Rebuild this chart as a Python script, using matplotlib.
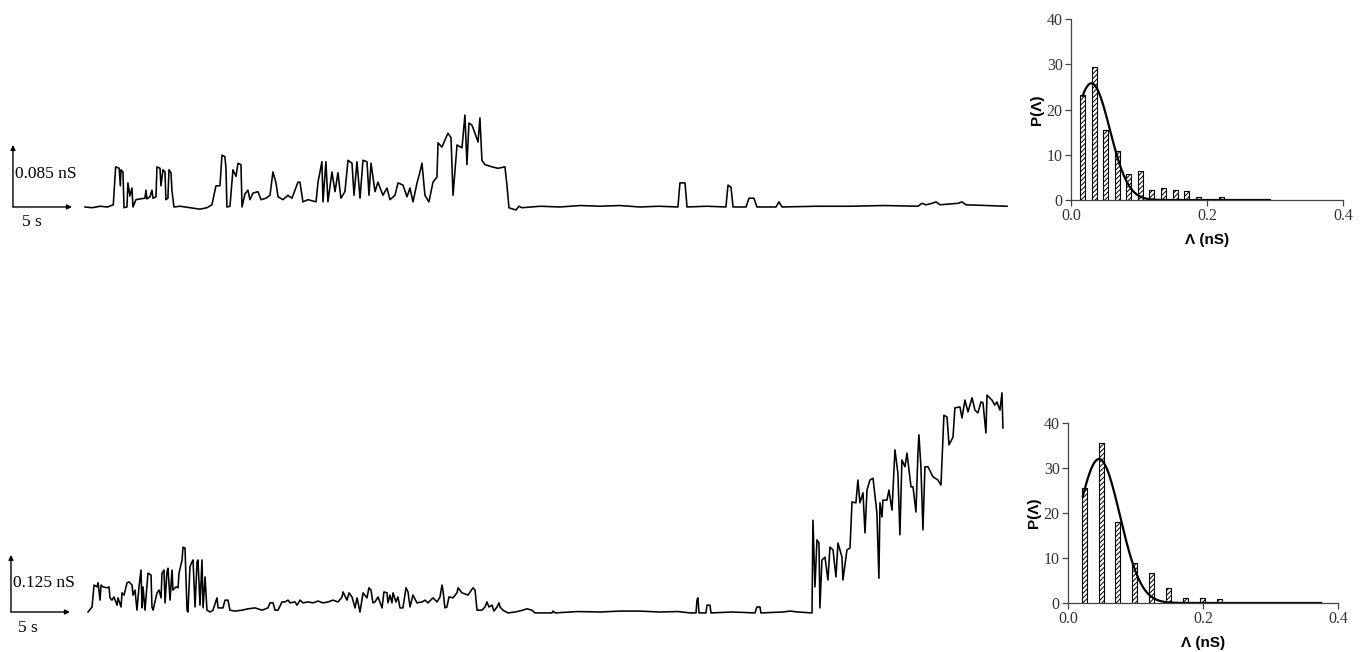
import numpy as np
import matplotlib.pyplot as plt

# ---- trace 1 (time in s, conductance in nS) ----
top_t = [0.0, 0.6, 1.3, 1.9, 2.4, 2.6, 2.9, 3.0, 3.05, 3.22, 3.31, 3.56, 3.64, 3.81, 3.98, 4.07,
         4.32, 4.66, 5.08, 5.17, 5.25, 5.51, 5.68, 5.76, 6.02, 6.10, 6.36, 6.44, 6.61, 6.78, 6.86,
         7.03, 7.12, 7.29, 7.37, 7.54, 8.05, 8.90, 9.75, 10.34, 10.76, 11.10, 11.44, 11.61, 11.86,
         11.95, 12.03, 12.29, 12.54, 12.80, 12.97, 13.22, 13.31, 13.56, 13.81, 13.98, 14.24, 14.66,
         14.92, 15.34, 15.68, 15.93, 16.19, 16.36, 16.78, 17.20, 17.54, 17.80, 18.05, 18.22, 18.47,
         18.90, 19.58, 19.75, 20.08, 20.17, 20.42, 20.59, 20.93, 21.19, 21.44, 21.69, 22.03, 22.29,
         22.63, 22.80, 23.05, 23.31, 23.56, 23.90, 24.07, 24.24, 24.58, 24.83, 25.25, 25.59, 25.85,
         26.27, 26.53, 26.95, 27.29, 27.54, 27.80, 28.14, 28.39, 28.56, 28.81, 29.15, 29.49, 29.83,
         29.92, 30.25, 30.51, 30.76, 31.02, 31.19, 31.53, 31.95, 32.20, 32.37, 32.54, 32.80, 33.05,
         33.31, 33.47, 33.64, 33.90, 34.49, 35.00, 35.59, 35.76, 35.93, 36.27, 36.53, 36.78, 37.03,
         38.6, 40.25, 42.0, 43.64, 45.3, 47.03, 48.6, 50.25, 50.42, 50.85, 51.02, 52.7, 54.32, 54.49,
         54.75, 54.92, 56.02, 56.27, 56.69, 56.95, 58.56, 58.81, 59.07, 62.0, 64.83, 67.7, 70.59,
         70.93, 71.27, 71.78, 72.12, 72.46, 73.98, 74.32, 74.66, 76.4, 78.14]
top_g = [0.000, -0.001, 0.001, 0.000, 0.003, 0.055, 0.053, 0.029, 0.051, 0.048, -0.001, 0.000,
         0.033, 0.015, 0.026, 0.000, 0.010, 0.011, 0.012, 0.023, 0.011, 0.014, 0.023, 0.012, 0.014,
         0.055, 0.053, 0.029, 0.051, 0.048, 0.010, 0.012, 0.051, 0.047, 0.023, 0.000, 0.001, -0.001,
         -0.003, -0.001, 0.003, 0.029, 0.029, 0.071, 0.069, 0.053, 0.000, 0.001, 0.051, 0.042, 0.060,
         0.058, 0.000, 0.018, 0.023, 0.010, 0.019, 0.021, 0.010, 0.012, 0.016, 0.048, 0.033, 0.014,
         0.010, 0.016, 0.012, 0.023, 0.034, 0.034, 0.007, 0.010, 0.007, 0.034, 0.062, 0.007, 0.062,
         0.007, 0.048, 0.021, 0.047, 0.012, 0.021, 0.064, 0.060, 0.016, 0.062, 0.012, 0.064, 0.062,
         0.016, 0.060, 0.021, 0.034, 0.016, 0.026, 0.010, 0.016, 0.033, 0.030, 0.014, 0.026, 0.007,
         0.033, 0.048, 0.060, 0.016, 0.007, 0.034, 0.041, 0.088, 0.082, 0.092, 0.101, 0.095, 0.016,
         0.085, 0.081, 0.126, 0.058, 0.115, 0.112, 0.101, 0.089, 0.122, 0.064, 0.058, 0.055, 0.053,
         0.055, 0.030, -0.001, -0.003, -0.004, 0.001, -0.001, 0.001, 0.000, 0.002, 0.001, 0.002,
         0.000, 0.001, 0.000, 0.033, 0.033, 0.000, 0.001, 0.000, 0.030, 0.027, 0.000, 0.000, 0.012,
         0.012, 0.000, 0.000, 0.007, 0.000, 0.001, 0.001, 0.002, 0.001, 0.005, 0.003, 0.005, 0.007,
         0.003, 0.005, 0.007, 0.003, 0.002, 0.001]

# ---- trace 2 ----
bot_t = [0.0, 0.34, 0.51, 0.76, 0.85, 1.02, 1.10, 1.27, 1.61, 1.78, 1.86, 2.03, 2.20, 2.46, 2.54,
         2.80, 2.88, 3.05, 3.31, 3.47, 3.73, 3.81, 3.98, 4.15, 4.32, 4.49, 4.58, 4.66, 4.83, 5.08,
         5.34, 5.42, 5.51, 5.85, 6.02, 6.19, 6.27, 6.44, 6.53, 6.69, 6.78, 6.95, 7.12, 7.20, 7.46,
         7.63, 7.71, 7.97, 8.05, 8.22, 8.39, 8.47, 8.64, 8.81, 8.90, 9.07, 9.24, 9.32, 9.49, 9.66,
         9.75, 9.92, 10.08, 10.34, 10.59, 10.93, 11.02, 11.44, 11.61, 11.86, 12.03, 12.46, 13.05,
         13.56, 14.15, 14.75, 15.25, 15.42, 15.68, 15.85, 16.10, 16.44, 16.69, 16.95, 17.12, 17.54,
         17.71, 17.97, 18.22, 18.64, 19.07, 19.49, 19.92, 20.34, 20.76, 21.19, 21.53, 21.61, 21.95,
         22.12, 22.37, 22.63, 22.80, 23.05, 23.31, 23.64, 23.81, 23.98, 24.15, 24.32, 24.58, 24.92,
         25.08, 25.34, 25.42, 25.59, 25.76, 25.85, 26.10, 26.27, 26.44, 26.69, 26.95, 27.12, 27.29,
         27.54, 27.88, 28.31, 28.56, 28.81, 29.24, 29.58, 29.83, 30.00, 30.08, 30.25, 30.42, 30.59,
         30.93, 31.27, 31.36, 31.69, 32.20, 32.63, 32.80, 32.97, 33.39, 33.64, 33.81, 33.98, 34.24,
         34.41, 34.66, 34.83, 34.92, 35.17, 35.59, 36.19, 36.86, 37.20, 37.63, 37.88, 39.32, 39.41,
         39.58, 41.5, 43.39, 45.1, 46.78, 48.47, 50.0, 51.02, 51.53, 51.61, 51.69, 51.78, 52.37,
         52.46, 52.71, 52.80, 54.6, 56.53, 56.69, 56.95, 57.03, 58.90, 59.49, 60.17, 61.36, 61.44,
         61.61, 61.78, 61.95, 62.03, 62.20, 62.46, 62.71, 62.88, 63.14, 63.39, 63.56, 63.90, 63.98,
         64.32, 64.58, 64.75, 65.08, 65.25, 65.42, 65.68, 65.85, 66.02, 66.27, 66.53, 66.86, 67.03,
         67.12, 67.29, 67.37, 67.71, 67.88, 68.14, 68.39, 68.64, 68.81, 68.98, 69.24, 69.41, 69.75,
         69.92, 70.17, 70.34, 70.42, 70.59, 70.76, 70.93, 71.19, 71.61, 72.03, 72.29, 72.54, 72.80,
         72.97, 73.31, 73.47, 73.90, 74.07, 74.32, 74.58, 74.92, 75.17, 75.42, 75.68, 75.85, 76.10,
         76.19, 76.61, 76.86, 77.03, 77.29, 77.46, 77.54]
bot_g = [0.000, 0.011, 0.059, 0.055, 0.064, 0.026, 0.059, 0.055, 0.053, 0.055, 0.031, 0.026,
         0.033, 0.015, 0.031, 0.011, 0.042, 0.037, 0.064, 0.066, 0.059, 0.037, 0.048, 0.004, 0.055,
         0.092, 0.009, 0.055, 0.004, 0.085, 0.081, 0.011, 0.004, 0.042, 0.048, 0.031, 0.085, 0.092,
         0.020, 0.088, 0.096, 0.026, 0.092, 0.048, 0.055, 0.053, 0.085, 0.114, 0.142, 0.140, 0.004,
         0.000, 0.099, 0.110, 0.114, 0.011, 0.110, 0.114, 0.015, 0.114, 0.009, 0.077, 0.004, 0.000,
         0.004, 0.031, 0.009, 0.009, 0.026, 0.026, 0.004, 0.002, 0.004, 0.007, 0.009, 0.004, 0.009,
         0.020, 0.020, 0.004, 0.004, 0.022, 0.022, 0.026, 0.020, 0.022, 0.015, 0.026, 0.020, 0.022,
         0.020, 0.024, 0.020, 0.022, 0.026, 0.022, 0.033, 0.044, 0.026, 0.042, 0.033, 0.009, 0.031,
         0.000, 0.042, 0.031, 0.053, 0.048, 0.020, 0.022, 0.033, 0.009, 0.044, 0.042, 0.020, 0.037,
         0.020, 0.042, 0.022, 0.033, 0.009, 0.009, 0.053, 0.044, 0.011, 0.037, 0.020, 0.022, 0.026,
         0.020, 0.031, 0.022, 0.033, 0.059, 0.048, 0.009, 0.011, 0.033, 0.031, 0.042, 0.053, 0.042,
         0.037, 0.053, 0.048, 0.004, 0.004, 0.011, 0.022, 0.011, 0.015, 0.002, 0.011, 0.020, 0.011,
         0.004, -0.002, 0.000, 0.004, 0.007, 0.004, -0.002, -0.002, 0.002, -0.002, 0.001, 0.000,
         0.002, 0.002, 0.000, 0.001, -0.002, -0.002, 0.026, 0.031, -0.002, -0.002, 0.015, 0.015,
         -0.002, 0.000, -0.002, 0.011, 0.011, -0.002, 0.000, 0.002, 0.000, -0.002, 0.201, 0.055,
         0.158, 0.151, 0.009, 0.114, 0.120, 0.070, 0.142, 0.136, 0.077, 0.151, 0.120, 0.070, 0.136,
         0.140, 0.241, 0.239, 0.289, 0.239, 0.261, 0.173, 0.267, 0.289, 0.293, 0.217, 0.074, 0.239,
         0.208, 0.245, 0.245, 0.267, 0.223, 0.355, 0.304, 0.169, 0.333, 0.318, 0.348, 0.274, 0.274,
         0.219, 0.348, 0.388, 0.318, 0.180, 0.318, 0.318, 0.296, 0.289, 0.278, 0.431, 0.427, 0.366,
         0.383, 0.447, 0.449, 0.425, 0.464, 0.438, 0.469, 0.442, 0.436, 0.460, 0.458, 0.392, 0.475,
         0.464, 0.453, 0.460, 0.442, 0.480, 0.403]

# ---- conductance histograms ----
hist1_x = [0.017, 0.034, 0.051, 0.068, 0.085, 0.102, 0.119, 0.136, 0.153, 0.170, 0.187, 0.221, 0.289]
hist1_p = [23.2, 29.3, 15.5, 10.9, 5.7, 6.3, 2.2, 2.6, 2.2, 1.9, 0.6, 0.6, 0.3]
fit1_amp, fit1_mu, fit1_sigma, fit1_range = 25.8, 0.030, 0.027, (0.017, 0.29)

hist2_x = [0.024, 0.049, 0.074, 0.099, 0.124, 0.149, 0.174, 0.199, 0.224]
hist2_p = [25.6, 35.6, 18.1, 8.9, 6.7, 3.3, 1.1, 1.1, 0.9]
fit2_amp, fit2_mu, fit2_sigma, fit2_range = 32.0, 0.046, 0.031, (0.022, 0.375)


def gauss(x, a, mu, s):
    return a * np.exp(-(x - mu) ** 2 / (2 * s ** 2))


plt.rcParams['hatch.linewidth'] = 0.7
fig = plt.figure(figsize=(13.63, 6.52), dpi=100)
W, H = 1363, 652


def add_axes_px(x0, y0, x1, y1):
    # pixel box (top-left origin) -> figure fraction
    return fig.add_axes([x0 / W, 1 - y1 / H, (x1 - x0) / W, (y1 - y0) / H])


def trace(ax, t, g, xlim, ylim, bar_t, bar_g, lab, lab_xy, sec_xy):
    ax.plot(t, g, color='black', lw=1.15)
    ax.set_xlim(*xlim)
    ax.set_ylim(*ylim)
    ax.axis('off')
    arrow = dict(arrowstyle='-|>', lw=1.0, color='black', mutation_scale=7, shrinkA=0, shrinkB=0)
    ax.annotate('', xy=(bar_t, bar_g), xytext=(bar_t, 0), arrowprops=arrow)
    ax.annotate('', xy=(bar_t + 5, 0), xytext=(bar_t, 0), arrowprops=arrow)
    ax.text(*lab_xy, lab, family='Liberation Serif', fontsize=12.5, va='center', ha='left')
    ax.text(*sec_xy, '5 s', family='Liberation Serif', fontsize=12.5, va='center', ha='left')


ax1 = add_axes_px(0, 100, 1010, 235)
trace(ax1, top_t, top_g, (-7.20, 78.39), (-0.0384, 0.1466), -6.10, 0.085,
      '0.085 nS', (-5.95, 0.045), (-5.3, -0.021))

ax2 = add_axes_px(0, 380, 1010, 640)
trace(ax2, bot_t, bot_g, (-7.46, 78.14), (-0.0613, 0.508), -6.53, 0.125,
      '0.125 nS', (-6.38, 0.064), (-5.9, -0.035))


def histo(ax, xs, ps, amp, mu, sig, rng):
    ax.bar(xs, ps, width=0.0074, color='white', edgecolor='black', hatch='///////', lw=0.8)
    xf = np.linspace(rng[0], rng[1], 300)
    ax.plot(xf, gauss(xf, amp, mu, sig), color='black', lw=1.6)
    ax.set_xlim(0, 0.4)
    ax.set_ylim(0, 40)
    ax.set_xticks([0.0, 0.2, 0.4])
    ax.set_xticklabels(['0.0', '0.2', '0.4'])
    ax.set_yticks([0, 10, 20, 30, 40])
    for s in ('top', 'right'):
        ax.spines[s].set_visible(False)
    for s in ('left', 'bottom'):
        ax.spines[s].set_linewidth(0.9)
        ax.spines[s].set_color('#444444')
    ax.tick_params(direction='out', length=4, width=0.9, color='#444444', labelsize=11.5, pad=2)
    for lbl in ax.get_xticklabels() + ax.get_yticklabels():
        lbl.set_family('Liberation Serif')
        lbl.set_color('#333333')
    ax.set_ylabel('P(Λ)', family='Liberation Sans', fontweight='bold', fontsize=11, labelpad=2)
    ax.set_xlabel('Λ (nS)', family='Liberation Sans', fontweight='bold', fontsize=11, labelpad=6)


h1 = add_axes_px(1071, 19, 1343, 200)
histo(h1, hist1_x, hist1_p, fit1_amp, fit1_mu, fit1_sigma, fit1_range)
h2 = add_axes_px(1068, 423, 1338, 603)
histo(h2, hist2_x, hist2_p, fit2_amp, fit2_mu, fit2_sigma, fit2_range)

fig.savefig('out.png', dpi=100)
